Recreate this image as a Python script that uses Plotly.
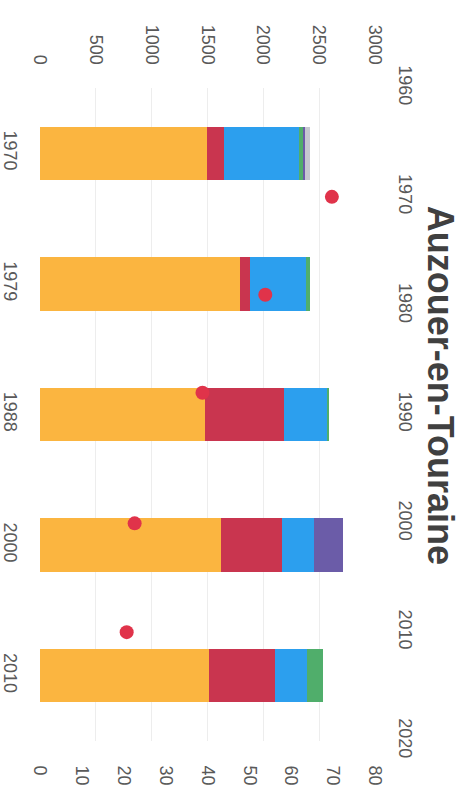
import plotly.graph_objects as go

# Census years shown as bar categories
categories = ["1970", "1979", "1988", "2000", "2010"]

# Stacked components (left axis, 0-3000)
orange_vals = [1493, 1791, 1478, 1621, 1516]
red_vals = [157, 90, 710, 543, 588]
blue_vals = [669, 501, 379, 292, 284]
green_vals = [39, 36, 18, 0, 149]
purple_vals = [18, 0, 0, 260, 0]
gray_vals = [42, 0, 0, 0, 0]

# Point series (secondary axes: year vs. 0-80 scale)
point_years = [1970, 1979, 1988, 2000, 2010]
point_vals = [69.7, 53.8, 38.8, 22.6, 20.7]

series = [
    (orange_vals, "#FBB540"),
    (red_vals, "#C9354F"),
    (blue_vals, "#2C9FEE"),
    (green_vals, "#50AE6B"),
    (purple_vals, "#6B5CA8"),
    (gray_vals, "#C5C8D0"),
]

fig = go.Figure()
for vals, col in series:
    fig.add_trace(go.Bar(
        y=categories, x=vals, orientation="h",
        marker=dict(color=col, line=dict(width=0)),
        xaxis="x", yaxis="y", showlegend=False,
    ))

fig.add_trace(go.Scatter(
    x=point_vals, y=point_years, mode="markers",
    marker=dict(color="#E0334A", size=14),
    xaxis="x2", yaxis="y2", showlegend=False,
))

tick_font = dict(family="Liberation Sans", size=18, color="#595959")
common = dict(ticks="outside", tickcolor="rgba(0,0,0,0)", automargin=False,
              zeroline=False, showline=False, tickfont=tick_font, tickangle=90)

fig.update_layout(
    width=460, height=791,
    margin=dict(l=40, r=85, t=88, b=50),
    paper_bgcolor="white", plot_bgcolor="white",
    barmode="stack", bargap=0.59,
    xaxis=dict(side="top", range=[0, 3000], dtick=500,
               showgrid=True, gridcolor="#EDEDED", ticklen=16, **common),
    xaxis2=dict(overlaying="x", side="bottom", range=[0, 80], dtick=10,
                showgrid=False, ticklen=20, anchor="y", **common),
    yaxis=dict(type="category", autorange="reversed",
               showgrid=False, ticklen=13, **common),
    yaxis2=dict(overlaying="y", side="right", range=[2020, 1960], dtick=10,
                showgrid=False, ticklen=16, anchor="x", **common),
    annotations=[dict(
        text="<b>Auzouer-en-Touraine</b>", textangle=90,
        xref="paper", yref="paper", x=1.194, y=0.544,
        xanchor="center", yanchor="middle", showarrow=False,
        font=dict(family="Liberation Sans", size=36, color="#404040"),
    )],
)

fig.write_html("out.html")
